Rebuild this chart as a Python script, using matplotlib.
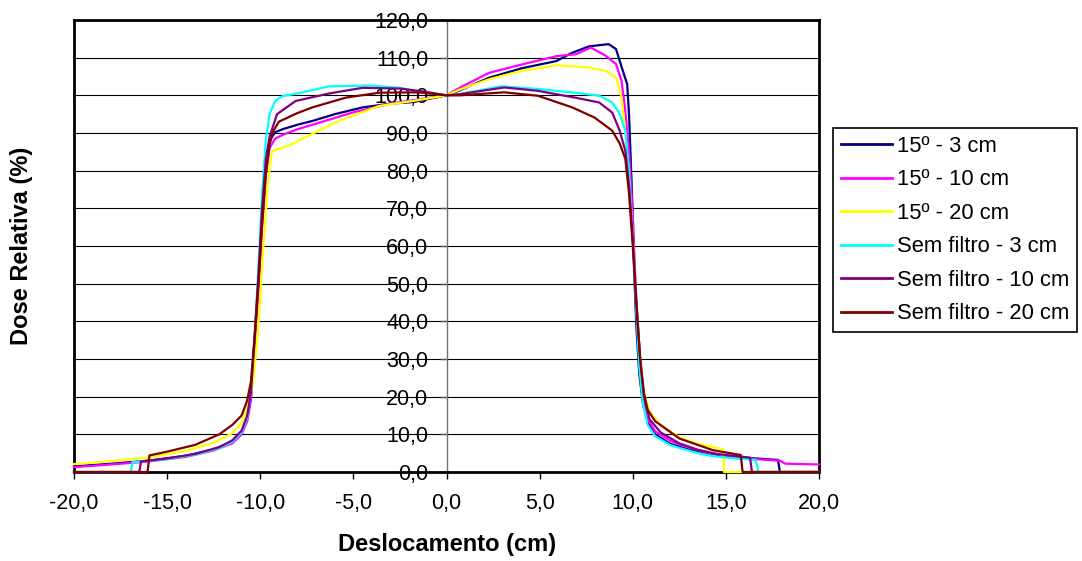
import matplotlib
matplotlib.use("Agg")
import matplotlib.pyplot as plt
from matplotlib.ticker import FuncFormatter, MultipleLocator

plt.rcParams['font.family'] = ['Liberation Sans', 'DejaVu Sans']

# dados (deslocamento em cm, dose relativa em %)
x_15_3 = [-20, -18, -16, -14, -12.5, -11.5, -11.0, -10.7, -10.5, -10.3, -10.1, -9.9, -9.7, -9.5, -9.2,
          -8.8, -8.0, -7.2, -6.0, -4.5, -3.0, -1.8, 0, 0.7, 2.3, 4.05, 5.9, 6.7, 7.65, 8.7, 9.1, 9.5,
          9.7, 9.8, 9.9, 10.0, 10.1, 10.2, 10.35, 10.55, 10.8, 11.2, 12.0, 13.0, 14.5, 16.0, 17.8, 17.9, 20]
y_15_3 = [1.5, 2.2, 3.0, 4.3, 6.0, 8.0, 10.5, 14, 20, 35, 50, 68, 82, 88, 90.2,
          91, 92.2, 93.2, 95, 96.8, 97.8, 98.2, 100, 101.3, 104.7, 107.2, 109.1, 111.2, 113.0, 113.6, 112.3, 106,
          103, 95, 82, 68, 50, 38, 26, 18, 13.5, 10, 7.5, 6, 4.6, 3.8, 3.2, 0, 0]

x_15_10 = [-20, -18, -16, -14, -12.5, -11.5, -11.0, -10.7, -10.5, -10.3, -10.1, -9.9, -9.7, -9.5, -9.2,
           -8.8, -8.0, -7.2, -6.0, -5.0, -3.0, -1.8, 0, 0.7, 2.3, 4.05, 5.9, 6.95, 7.75, 8.55, 9.1, 9.4,
           9.6, 9.8, 10.0, 10.15, 10.3, 10.5, 10.75, 11.2, 12.0, 12.5, 13.5, 14.3, 16.0, 17.9, 18.2, 20]
y_15_10 = [1.3, 2.0, 2.8, 4.0, 5.7, 7.6, 10, 13.5, 19, 33, 48, 65, 79, 86, 88.5,
           89.5, 91, 92.2, 94, 95.5, 97.8, 98.7, 100, 102, 106, 108.2, 110.4, 110.9, 112.7, 110.5, 108.3, 103.8,
           96, 85, 68, 50, 35, 21, 14.5, 10.8, 8.3, 7.3, 5.8, 4.9, 3.6, 3.0, 2.2, 2.0]

x_15_20 = [-20, -18, -16, -14, -12.5, -11.5, -11.0, -10.7, -10.4, -10.2, -10.0, -9.8, -9.6, -9.4, -9.3,
           -8.5, -7.2, -5.8, -3.6, -1.8, 0, 0.7, 2.3, 4.05, 5.9, 7.65, 8.55, 9.1, 9.4, 9.6, 9.8, 10.0,
           10.2, 10.4, 10.6, 10.9, 11.5, 12.5, 13.5, 14.6, 14.85, 14.9, 20]
y_15_20 = [2.1, 2.9, 3.9, 5.6, 7.8, 10.3, 13, 17, 23, 33, 46, 62, 76, 84.5, 85.3,
           86.6, 89.8, 93.2, 97.2, 98.5, 100, 101.5, 104.3, 106.5, 108, 107.4, 106.5, 104.7, 99.4, 90, 78, 62,
           45, 30, 21, 16, 12.5, 9.2, 7.5, 6.3, 6.0, 0, 0]

x_sf_3 = [-20, -16.95, -16.85, -15, -13.5, -12.2, -11.5, -11.0, -10.7, -10.5, -10.3, -10.1, -9.9, -9.7, -9.5,
          -9.2, -8.8, -8.0, -6.3, -4.0, -2.5, -1.5, 0, 0.7, 2.9, 4.9, 6.9, 8.2, 8.9, 9.3, 9.6, 9.8,
          10.0, 10.2, 10.35, 10.55, 10.8, 11.2, 12.0, 12.5, 13.5, 14.3, 15.5, 16.6, 16.75, 20]
y_sf_3 = [0, 0, 2.6, 3.4, 4.6, 6.3, 8.0, 10.5, 14.5, 21, 37, 54, 74, 88, 95,
          98.5, 99.8, 100.5, 102.4, 102.6, 102, 101, 100, 100.3, 102.4, 101.7, 100.7, 99.9, 98.1, 95.1, 90.6, 80,
          62, 42, 28, 18, 12.5, 9.5, 7.2, 6.4, 5.0, 4.2, 3.6, 3.2, 0, 0]

x_sf_10 = [-20, -16.5, -16.4, -15, -13.5, -12.2, -11.5, -11.0, -10.7, -10.5, -10.3, -10.1, -9.9, -9.7, -9.5,
           -9.1, -8.1, -6.3, -4.5, -2.5, -1.2, 0, 0.7, 3.1, 4.9, 6.9, 8.2, 8.9, 9.3, 9.6, 9.8, 10.0,
           10.2, 10.4, 10.6, 10.9, 11.5, 12.5, 13.5, 14.5, 16.3, 16.4, 20]
y_sf_10 = [0, 0, 2.8, 3.6, 4.8, 6.6, 8.4, 11, 15, 21, 36, 52, 70, 83, 89,
           95, 98.5, 100.5, 102, 101.8, 101, 100, 100.3, 102.1, 101.2, 99.4, 98.1, 95.4, 90.6, 85.3, 76, 62,
           45, 30, 20, 14, 10.5, 7.6, 5.9, 4.8, 3.8, 0, 0]

x_sf_20 = [-20, -16.05, -15.95, -15, -13.5, -12.2, -11.5, -11.0, -10.7, -10.5, -10.3, -10.1, -9.9, -9.7, -9.5,
           -9.3, -9.0, -8.0, -7.2, -5.4, -3.6, -1.5, 0, 0.7, 3.1, 4.9, 6.75, 7.95, 8.9, 9.3, 9.6, 9.8,
           10.0, 10.2, 10.4, 10.6, 10.8, 11.2, 12.5, 14.3, 15.8, 15.9, 20]
y_sf_20 = [0, 0, 4.4, 5.4, 7.2, 10.0, 12.5, 15, 19, 24, 36, 50, 66, 79, 87,
           90.5, 93, 95.3, 96.8, 99.4, 100.7, 100.8, 100, 100, 100.8, 99.9, 96.8, 94.1, 90.6, 87.2, 83.2, 74,
           60, 44, 30, 21, 16.5, 13.5, 8.9, 5.8, 4.5, 0, 0]

labels = ['15º - 3 cm', '15º - 10 cm', '15º - 20 cm',
          'Sem filtro - 3 cm', 'Sem filtro - 10 cm', 'Sem filtro - 20 cm']
colors = ['#000080', '#FF00FF', '#FFFF00', '#00FFFF', '#800080', '#800000']
series = [(x_15_3, y_15_3), (x_15_10, y_15_10), (x_15_20, y_15_20),
          (x_sf_3, y_sf_3), (x_sf_10, y_sf_10), (x_sf_20, y_sf_20)]

fig = plt.figure(figsize=(10.82, 5.61), dpi=100)
ax = fig.add_axes([74 / 1082, 89 / 561, 745 / 1082, 452 / 561])

for (xs, ys), lab, col in zip(series, labels, colors):
    ax.plot(xs, ys, color=col, lw=1.6, label=lab, zorder=3, clip_on=False)

ax.set_xlim(-20, 20)
ax.set_ylim(0, 120)
ax.xaxis.set_major_locator(MultipleLocator(5))
ax.yaxis.set_major_locator(MultipleLocator(10))
fmt = FuncFormatter(lambda v, p: f'{v:.1f}'.replace('.', ','))
ax.xaxis.set_major_formatter(fmt)
ax.yaxis.set_major_formatter(fmt)

ax.grid(axis='y', color='black', lw=0.8)
ax.set_axisbelow(True)

# eixo y no meio (x = 0), moldura em volta
ax.spines['left'].set_position(('data', 0))
ax.spines['left'].set_color('#707070')
ax.spines['left'].set_linewidth(1)
for s in ['top', 'right', 'bottom']:
    ax.spines[s].set_linewidth(2)
    ax.spines[s].set_color('black')
ax.plot([0, 0], [0, 1], transform=ax.transAxes, color='black', lw=2, clip_on=False, zorder=2.5)

ax.tick_params(axis='x', direction='out', length=5, width=1, pad=10, labelsize=15.5)
ax.tick_params(axis='y', direction='out', length=5, width=1, color='#505050', pad=8, labelsize=15.5)

fig.text(447 / 1082, 1 - 545 / 561, 'Deslocamento (cm)', ha='center', va='center',
         fontsize=17, fontweight='bold')
fig.text(22 / 1082, 1 - 246 / 561, 'Dose Relativa (%)', ha='center', va='center',
         rotation=90, fontsize=17, fontweight='bold')

leg = ax.legend(loc='upper left', bbox_to_anchor=(833 / 1082, 1 - 128 / 561),
                bbox_transform=fig.transFigure, borderaxespad=0, fontsize=15.8,
                frameon=True, fancybox=False, edgecolor='black', framealpha=1,
                handlelength=2.35, handletextpad=0.2, labelspacing=0.57, borderpad=0.35)
leg.get_frame().set_linewidth(1.2)
for h in leg.get_lines():
    h.set_linewidth(2)

fig.savefig('out.png', dpi=100)
